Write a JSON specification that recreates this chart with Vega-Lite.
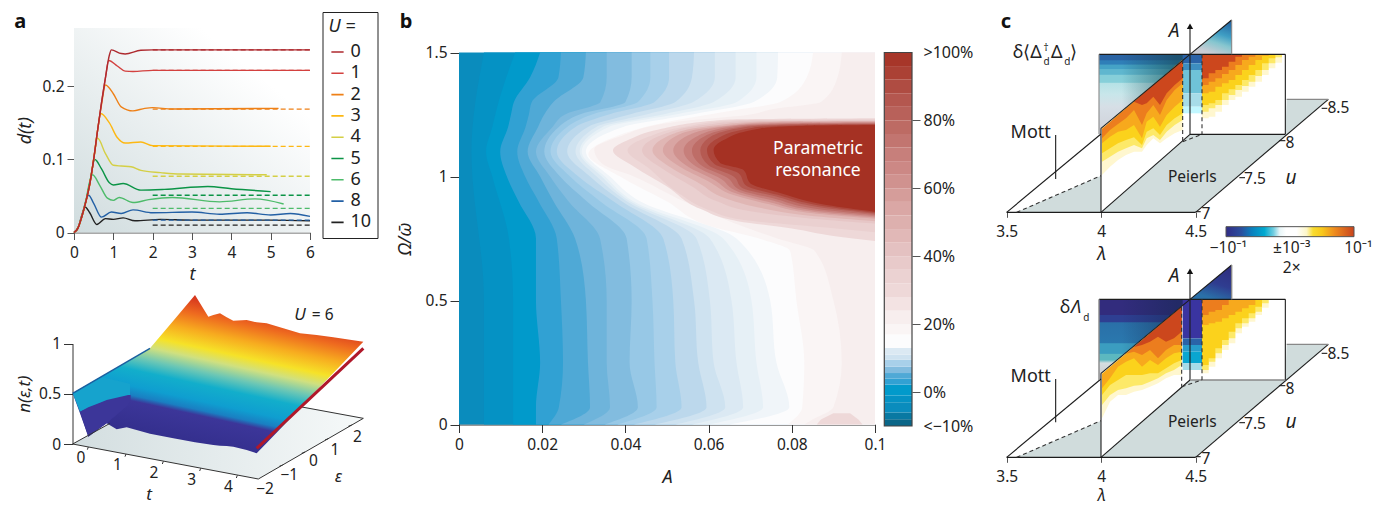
{"$schema":"https://vega.github.io/schema/vega-lite/v6.json","width":1375,"height":505,"padding":0,"autosize":{"type":"none"},"background":"white",
"config":{"font":"Noto Sans","view":{"stroke":null},"axis":{"grid":false,"domainColor":"#555","tickColor":"#555","labelColor":"#222","titleColor":"#222","labelFontSize":15.5,"titleFontSize":18,"titleFontWeight":"normal","labelFont":"Noto Sans","titleFont":"Noto Sans","labelPadding":3,"labelFlush":false,"labelOverlap":false},"text":{"color":"#222","fontSize":16}},
"resolve":{"scale":{"x":"independent","y":"independent","color":"independent"},"axis":{"x":"independent","y":"independent"},"legend":{"color":"independent"}},
"layer":[
{"encoding":{"x":{"field":"t","type":"quantitative","scale":{"domain":[0,6],"range":[74,310],"nice":false},"axis":{"orient":"bottom","offset":-272.5,"values":[0,1,2,3,4,5,6],"labelExpr":"''+datum.value","labelPadding":6,"tickSize":7,"title":"t","titleFontStyle":"italic","titlePadding":4}},"y":{"field":"d","type":"quantitative","scale":{"domain":[0,0.28],"range":[232.5,28],"nice":false},"axis":{"orient":"left","offset":-74,"values":[0,0.1,0.2],"labelExpr":"''+datum.value","tickSize":7,"title":"d(t)","titleFontStyle":"italic","titlePadding":8}}},
"layer":[
{"data":{"values":[{"t":0,"d":0,"t2":6,"d2":0.28}]},"mark":{"type":"rect","fill":{"gradient":"linear","x1":0,"y1":1,"x2":0.75,"y2":0.2,"stops":[{"offset":0,"color":"#d0dcde"},{"offset":1,"color":"#ffffff"}]}},"encoding":{"x2":{"field":"t2"},"y2":{"field":"d2"}}},
{"data":{"values":[
{"U":"10","t":0,"d":0},{"U":"10","t":0.1,"d":0.006},{"U":"10","t":0.2,"d":0.024},{"U":"10","t":0.28,"d":0.035},{"U":"10","t":0.4,"d":0.027},{"U":"10","t":0.58,"d":0.011},{"U":"10","t":0.8,"d":0.019},{"U":"10","t":1,"d":0.018},{"U":"10","t":1.25,"d":0.02},{"U":"10","t":1.55,"d":0.016},{"U":"10","t":2.2,"d":0.018},{"U":"10","t":3,"d":0.017},{"U":"10","t":4,"d":0.017},{"U":"10","t":5,"d":0.017},{"U":"10","t":6,"d":0.016},
{"U":"8","t":0,"d":0},{"U":"8","t":0.1,"d":0.006},{"U":"8","t":0.2,"d":0.022},{"U":"8","t":0.3,"d":0.043},{"U":"8","t":0.37,"d":0.051},{"U":"8","t":0.5,"d":0.04},{"U":"8","t":0.7,"d":0.021},{"U":"8","t":0.95,"d":0.028},{"U":"8","t":1.2,"d":0.026},{"U":"8","t":1.5,"d":0.031},{"U":"8","t":2,"d":0.027},{"U":"8","t":3,"d":0.028},{"U":"8","t":3.7,"d":0.025},{"U":"8","t":4.4,"d":0.027},{"U":"8","t":5,"d":0.024},{"U":"8","t":5.5,"d":0.026},{"U":"8","t":6,"d":0.022},
{"U":"6","t":0,"d":0},{"U":"6","t":0.1,"d":0.006},{"U":"6","t":0.2,"d":0.022},{"U":"6","t":0.3,"d":0.043},{"U":"6","t":0.4,"d":0.07},{"U":"6","t":0.47,"d":0.079},{"U":"6","t":0.65,"d":0.065},{"U":"6","t":0.85,"d":0.047},{"U":"6","t":1,"d":0.044},{"U":"6","t":1.15,"d":0.048},{"U":"6","t":1.5,"d":0.041},{"U":"6","t":1.9,"d":0.045},{"U":"6","t":2.5,"d":0.048},{"U":"6","t":3.7,"d":0.042},{"U":"6","t":4.6,"d":0.046},{"U":"6","t":5.33,"d":0.039},
{"U":"5","t":0,"d":0},{"U":"5","t":0.1,"d":0.006},{"U":"5","t":0.2,"d":0.022},{"U":"5","t":0.3,"d":0.042},{"U":"5","t":0.4,"d":0.068},{"U":"5","t":0.53,"d":0.1},{"U":"5","t":0.7,"d":0.087},{"U":"5","t":0.9,"d":0.068},{"U":"5","t":1,"d":0.065},{"U":"5","t":1.25,"d":0.067},{"U":"5","t":1.7,"d":0.058},{"U":"5","t":2.3,"d":0.059},{"U":"5","t":3.4,"d":0.063},{"U":"5","t":4,"d":0.06},{"U":"5","t":5,"d":0.056},
{"U":"4","t":0,"d":0},{"U":"4","t":0.1,"d":0.006},{"U":"4","t":0.2,"d":0.022},{"U":"4","t":0.3,"d":0.042},{"U":"4","t":0.4,"d":0.066},{"U":"4","t":0.5,"d":0.1},{"U":"4","t":0.6,"d":0.129},{"U":"4","t":0.8,"d":0.108},{"U":"4","t":1,"d":0.092},{"U":"4","t":1.2,"d":0.091},{"U":"4","t":1.45,"d":0.09},{"U":"4","t":1.7,"d":0.085},{"U":"4","t":2.2,"d":0.082},{"U":"4","t":2.7,"d":0.08},{"U":"4","t":4.9,"d":0.079},
{"U":"3","t":0,"d":0},{"U":"3","t":0.1,"d":0.006},{"U":"3","t":0.2,"d":0.022},{"U":"3","t":0.3,"d":0.042},{"U":"3","t":0.4,"d":0.066},{"U":"3","t":0.5,"d":0.1},{"U":"3","t":0.6,"d":0.14},{"U":"3","t":0.68,"d":0.163},{"U":"3","t":0.9,"d":0.15},{"U":"3","t":1.1,"d":0.13},{"U":"3","t":1.3,"d":0.1225},{"U":"3","t":1.7,"d":0.124},{"U":"3","t":2,"d":0.119},{"U":"3","t":5,"d":0.118},
{"U":"2","t":0,"d":0},{"U":"2","t":0.1,"d":0.006},{"U":"2","t":0.2,"d":0.022},{"U":"2","t":0.3,"d":0.042},{"U":"2","t":0.4,"d":0.066},{"U":"2","t":0.5,"d":0.1},{"U":"2","t":0.6,"d":0.14},{"U":"2","t":0.7,"d":0.175},{"U":"2","t":0.8,"d":0.202},{"U":"2","t":1,"d":0.19},{"U":"2","t":1.2,"d":0.172},{"U":"2","t":1.5,"d":0.1665},{"U":"2","t":1.8,"d":0.17},{"U":"2","t":2,"d":0.171},{"U":"2","t":2.5,"d":0.169},{"U":"2","t":5.2,"d":0.17},
{"U":"1","t":0,"d":0},{"U":"1","t":0.1,"d":0.006},{"U":"1","t":0.2,"d":0.022},{"U":"1","t":0.3,"d":0.042},{"U":"1","t":0.4,"d":0.066},{"U":"1","t":0.5,"d":0.1},{"U":"1","t":0.6,"d":0.14},{"U":"1","t":0.7,"d":0.178},{"U":"1","t":0.8,"d":0.212},{"U":"1","t":0.88,"d":0.2355},{"U":"1","t":1.1,"d":0.228},{"U":"1","t":1.3,"d":0.221},{"U":"1","t":1.5,"d":0.2205},{"U":"1","t":2,"d":0.222},{"U":"1","t":6,"d":0.222},
{"U":"0","t":0,"d":0},{"U":"0","t":0.1,"d":0.006},{"U":"0","t":0.2,"d":0.022},{"U":"0","t":0.3,"d":0.042},{"U":"0","t":0.4,"d":0.066},{"U":"0","t":0.5,"d":0.1},{"U":"0","t":0.6,"d":0.14},{"U":"0","t":0.7,"d":0.178},{"U":"0","t":0.8,"d":0.212},{"U":"0","t":0.9,"d":0.243},{"U":"0","t":0.95,"d":0.25},{"U":"0","t":1.2,"d":0.245},{"U":"0","t":1.3,"d":0.2445},{"U":"0","t":1.7,"d":0.2495},{"U":"0","t":2,"d":0.25},{"U":"0","t":6,"d":0.25}
]},"mark":{"type":"line","interpolate":"monotone","strokeWidth":1.4},"encoding":{"color":{"field":"U","type":"nominal","scale":{"domain":["0","1","2","3","4","5","6","8","10"],"range":["#ae2a2f","#d3413f","#ee8017","#fdb813","#d4cf45","#0b9446","#4dbb6a","#2360a5","#222222"]},"legend":{"orient":"none","legendX":322.5,"legendY":12,"title":"U =","titleFontStyle":"italic","titleFontWeight":"normal","titleFontSize":18,"titleColor":"#222","titlePadding":7,"labelFontSize":18,"labelColor":"#222","symbolType":"stroke","symbolSize":150,"symbolStrokeWidth":1.6,"rowPadding":3.3,"strokeColor":"#222","fillColor":"white","padding":6,"symbolDash":[1,0]}}}},
{"data":{"values":[{"U":"0","t":2,"d":0.25},{"U":"0","t":6,"d":0.25},{"U":"1","t":2,"d":0.222},{"U":"1","t":6,"d":0.222},{"U":"2","t":2,"d":0.169},{"U":"2","t":6,"d":0.169},{"U":"3","t":2,"d":0.118},{"U":"3","t":6,"d":0.118},{"U":"4","t":2,"d":0.077},{"U":"4","t":6,"d":0.077},{"U":"5","t":2,"d":0.051},{"U":"5","t":6,"d":0.051},{"U":"6","t":2,"d":0.033},{"U":"6","t":6,"d":0.033},{"U":"8","t":2,"d":0.017},{"U":"8","t":6,"d":0.017},{"U":"10","t":2,"d":0.01},{"U":"10","t":6,"d":0.01}]},"mark":{"type":"line","strokeDash":[5,3],"strokeWidth":1.3},"encoding":{"color":{"field":"U","type":"nominal","scale":{"domain":["0","1","2","3","4","5","6","8","10"],"range":["#ae2a2f","#d3413f","#ee8017","#fdb813","#d4cf45","#0b9446","#4dbb6a","#2360a5","#222222"]},"legend":{"orient":"none","legendX":322.5,"legendY":12,"title":"U =","titleFontStyle":"italic","titleFontWeight":"normal","titleFontSize":18,"titleColor":"#222","titlePadding":7,"labelFontSize":18,"labelColor":"#222","symbolType":"stroke","symbolSize":150,"symbolStrokeWidth":1.6,"rowPadding":3.3,"strokeColor":"#222","fillColor":"white","padding":6,"symbolDash":[1,0]}}}},
{"data":{"values":[{"s":"a","t":-1.37,"d":0.288}]},"mark":{"type":"text","fontSize":20,"fontWeight":"bold","color":"#111"},"encoding":{"text":{"field":"s"}}}
]},
{"data":{"values":[{"n":0},{"n":0.5},{"n":1}]},"mark":{"type":"point","opacity":0},"encoding":{"y":{"field":"n","type":"quantitative","scale":{"domain":[0,1],"range":[444,343.5],"nice":false},"axis":{"orient":"left","offset":-72.5,"values":[0,0.5,1],"labelExpr":"''+datum.value","tickSize":9,"domainColor":"#333","tickColor":"#333","title":"n(ε,t)","titleFontStyle":"italic","titleFontSize":17,"titlePadding":5}}}},
{"encoding":{"x":{"field":"x","type":"quantitative","scale":{"domain":[0,1200],"range":[0,400],"nice":false},"axis":null},"y":{"field":"y","type":"quantitative","scale":{"domain":[0,675],"range":[280,505],"nice":false},"axis":null}},
"layer":[
{"data":{"values":[{"x":218,"y":492,"t":492},{"x":540,"y":553,"t":312},{"x":775,"y":597,"t":355},{"x":1090,"y":415,"t":415}]},"mark":{"type":"area","fill":{"gradient":"linear","x1":0,"y1":0.5,"x2":1,"y2":0.5,"stops":[{"offset":0,"color":"#d3dee0"},{"offset":1,"color":"#f6f9f9"}]}},"encoding":{"y2":{"field":"t"}}},
{"data":{"values":[{"x":218,"y":340,"t":340},{"x":240,"y":400,"t":327},{"x":265,"y":470,"t":313},{"x":320,"y":430,"t":281},{"x":350,"y":448,"t":264},{"x":380,"y":442,"t":246},{"x":450,"y":461,"t":205},{"x":520,"y":475,"t":122},{"x":585,"y":487,"t":45},{"x":625,"y":493,"t":110},{"x":640,"y":495,"t":105},{"x":660,"y":497,"t":100},{"x":680,"y":498,"t":112},{"x":700,"y":500,"t":122},{"x":740,"y":510,"t":120},{"x":770,"y":520,"t":127},{"x":800,"y":489,"t":130},{"x":850,"y":437,"t":145},{"x":900,"y":384,"t":160},{"x":950,"y":331,"t":165},{"x":1000,"y":279,"t":172},{"x":1090,"y":185,"t":185}]},"mark":{"type":"area","fill":{"gradient":"linear","x1":0.25,"y1":1,"x2":0.65,"y2":0,"stops":[{"offset":0,"color":"#2e2a85"},{"offset":0.27,"color":"#3c3699"},{"offset":0.3,"color":"#1a7fc2"},{"offset":0.35,"color":"#0f9ed0"},{"offset":0.44,"color":"#12aecb"},{"offset":0.51,"color":"#6cc7b5"},{"offset":0.58,"color":"#cfe080"},{"offset":0.64,"color":"#f6e228"},{"offset":0.73,"color":"#f7ab1f"},{"offset":0.82,"color":"#ee6a1f"},{"offset":0.9,"color":"#d93a1e"},{"offset":1,"color":"#b9261c"}]}},"encoding":{"y2":{"field":"t"}}},
{"data":{"values":[{"x":218,"y":340,"t":340},{"x":240,"y":395,"t":327},{"x":300,"y":370,"t":292},{"x":305,"y":368,"t":291},{"x":390,"y":345,"t":311}]},"mark":{"type":"area","color":"#16a3cd"},"encoding":{"y2":{"field":"t"}}},
{"data":{"values":[{"x":240,"y":395,"t":395},{"x":265,"y":470,"t":382},{"x":300,"y":443,"t":368},{"x":320,"y":430,"t":360},{"x":385,"y":375,"t":345},{"x":392,"y":360,"t":345}]},"mark":{"type":"area","color":"#3c3699"},"encoding":{"y2":{"field":"t"}}},
{"data":{"values":[{"x":218,"y":492,"b":775,"t":597},{"x":775,"y":597,"b":1090,"t":415},{"x":900,"y":380,"b":1090,"t":415},{"x":218,"y":492,"b":330,"t":430},{"x":265,"y":501,"b":262,"t":509},{"x":378,"y":522,"b":375,"t":530},{"x":490,"y":544,"b":487,"t":552},{"x":602,"y":565,"b":599,"t":573},{"x":712,"y":586,"b":709,"t":594},{"x":848,"y":555,"b":838,"t":559},{"x":915,"y":516,"b":905,"t":520},{"x":985,"y":476,"b":975,"t":480},{"x":1055,"y":435,"b":1045,"t":439}]},"mark":{"type":"rule","color":"#333","strokeWidth":1},"encoding":{"x2":{"field":"b"},"y2":{"field":"t"}}},
{"data":{"values":[{"x":218,"y":340,"b":450,"t":205}]},"mark":{"type":"rule","color":"#1a5fa0","strokeWidth":1.5},"encoding":{"x2":{"field":"b"},"y2":{"field":"t"}}},
{"data":{"values":[{"x":770,"y":505,"b":1090,"t":205}]},"mark":{"type":"rule","color":"#b0182a","strokeWidth":3},"encoding":{"x2":{"field":"b"},"y2":{"field":"t"}}},
{"data":{"values":[{"s":"0","x":243,"y":535},{"s":"1","x":352,"y":555},{"s":"2","x":462,"y":578},{"s":"3","x":575,"y":600},{"s":"4","x":685,"y":622},{"s":"−2","x":795,"y":628},{"s":"−1","x":868,"y":585},{"s":"0","x":940,"y":543},{"s":"1","x":1005,"y":510},{"s":"2","x":1072,"y":470},{"s":"= 6","x":968,"y":105}]},"mark":{"type":"text","fontSize":15.5},"encoding":{"text":{"field":"s"}}},
{"data":{"values":[{"s":"t","x":447,"y":645},{"s":"ε","x":1015,"y":592},{"s":"U","x":900,"y":105}]},"mark":{"type":"text","fontSize":17,"fontStyle":"italic"},"encoding":{"text":{"field":"s"}}}
]},
{"encoding":{"x":{"field":"a","type":"quantitative","scale":{"domain":[0,0.1],"range":[459,875],"nice":false},"axis":{"orient":"bottom","offset":-80.5,"values":[0,0.02,0.04,0.06,0.08,0.1],"labelExpr":"''+datum.value","labelPadding":5,"tickSize":8,"domainColor":"#333","tickColor":"#333","title":"A","titleFontStyle":"italic","titlePadding":15}},"y":{"field":"o","type":"quantitative","scale":{"domain":[0,1.5],"range":[424.5,52.5],"nice":false},"axis":{"orient":"left","offset":-459,"values":[0,0.5,1,1.5],"labelExpr":"''+datum.value","tickSize":9,"domainColor":"#333","tickColor":"#333","title":"Ω/ω̄","titleFontStyle":"italic","titlePadding":11}}},
"layer":[
{"data":{"values":[
{"v":-4,"o":0,"a":0},{"v":-4,"o":1.5,"a":0},
{"v":-2,"o":0,"a":0.006},{"v":-2,"o":0.5,"a":0.006},{"v":-2,"o":1.1,"a":0.003},{"v":-2,"o":1.5,"a":0.006},
{"v":0,"o":0,"a":0.013},{"v":0,"o":0.5,"a":0.013},{"v":0,"o":0.75,"a":0.012},{"v":0,"o":1,"a":0.008},{"v":0,"o":1.1,"a":0.0065},{"v":0,"o":1.2,"a":0.008},{"v":0,"o":1.3,"a":0.0095},{"v":0,"o":1.5,"a":0.0135},
{"v":1,"o":0,"a":0.0185},{"v":1,"o":0.07,"a":0.0185},{"v":1,"o":0.25,"a":0.0195},{"v":1,"o":0.5,"a":0.0185},{"v":1,"o":0.75,"a":0.0185},{"v":1,"o":0.9,"a":0.0143},{"v":1,"o":1,"a":0.0115},{"v":1,"o":1.1,"a":0.0099},{"v":1,"o":1.2,"a":0.0118},{"v":1,"o":1.25,"a":0.0125},{"v":1,"o":1.3,"a":0.0132},{"v":1,"o":1.4,"a":0.0171},{"v":1,"o":1.5,"a":0.0195},
{"v":2.5,"o":0,"a":0.0215},{"v":2.5,"o":0.07,"a":0.024},{"v":2.5,"o":0.25,"a":0.025},{"v":2.5,"o":0.5,"a":0.0245},{"v":2.5,"o":0.75,"a":0.0235},{"v":2.5,"o":0.9,"a":0.0191},{"v":2.5,"o":1,"a":0.0159},{"v":2.5,"o":1.1,"a":0.014},{"v":2.5,"o":1.2,"a":0.016},{"v":2.5,"o":1.25,"a":0.0168},{"v":2.5,"o":1.3,"a":0.0175},{"v":2.5,"o":1.4,"a":0.0239},{"v":2.5,"o":1.5,"a":0.0245},
{"v":4,"o":0,"a":0.0245},{"v":4,"o":0.07,"a":0.0315},{"v":4,"o":0.25,"a":0.031},{"v":4,"o":0.5,"a":0.0305},{"v":4,"o":0.75,"a":0.0279},{"v":4,"o":0.9,"a":0.0227},{"v":4,"o":1,"a":0.0195},{"v":4,"o":1.1,"a":0.0165},{"v":4,"o":1.2,"a":0.019},{"v":4,"o":1.25,"a":0.0205},{"v":4,"o":1.3,"a":0.0227},{"v":4,"o":1.4,"a":0.0299},{"v":4,"o":1.5,"a":0.0305},
{"v":5,"o":0,"a":0.03},{"v":5,"o":0.07,"a":0.0363},{"v":5,"o":0.25,"a":0.0355},{"v":5,"o":0.5,"a":0.0355},{"v":5,"o":0.75,"a":0.0339},{"v":5,"o":0.9,"a":0.0263},{"v":5,"o":1,"a":0.0219},{"v":5,"o":1.1,"a":0.0185},{"v":5,"o":1.2,"a":0.0225},{"v":5,"o":1.25,"a":0.0255},{"v":5,"o":1.3,"a":0.034},{"v":5,"o":1.4,"a":0.0355},{"v":5,"o":1.5,"a":0.0355},
{"v":6.5,"o":0,"a":0.035},{"v":6.5,"o":0.07,"a":0.043},{"v":6.5,"o":0.25,"a":0.041},{"v":6.5,"o":0.5,"a":0.0415},{"v":6.5,"o":0.75,"a":0.0403},{"v":6.5,"o":0.9,"a":0.0307},{"v":6.5,"o":1,"a":0.0243},{"v":6.5,"o":1.1,"a":0.0205},{"v":6.5,"o":1.2,"a":0.024},{"v":6.5,"o":1.25,"a":0.029},{"v":6.5,"o":1.3,"a":0.04},{"v":6.5,"o":1.4,"a":0.0415},{"v":6.5,"o":1.5,"a":0.0415},
{"v":7.5,"o":0,"a":0.038},{"v":7.5,"o":0.07,"a":0.0475},{"v":7.5,"o":0.25,"a":0.047},{"v":7.5,"o":0.5,"a":0.0465},{"v":7.5,"o":0.75,"a":0.0451},{"v":7.5,"o":0.9,"a":0.0339},{"v":7.5,"o":1,"a":0.0267},{"v":7.5,"o":1.1,"a":0.022},{"v":7.5,"o":1.2,"a":0.026},{"v":7.5,"o":1.25,"a":0.032},{"v":7.5,"o":1.3,"a":0.043},{"v":7.5,"o":1.4,"a":0.046},{"v":7.5,"o":1.5,"a":0.046},
{"v":8.5,"o":0,"a":0.042},{"v":8.5,"o":0.07,"a":0.0535},{"v":8.5,"o":0.25,"a":0.052},{"v":8.5,"o":0.5,"a":0.0515},{"v":8.5,"o":0.75,"a":0.0491},{"v":8.5,"o":0.9,"a":0.0371},{"v":8.5,"o":1,"a":0.0287},{"v":8.5,"o":1.1,"a":0.0235},{"v":8.5,"o":1.2,"a":0.028},{"v":8.5,"o":1.25,"a":0.036},{"v":8.5,"o":1.3,"a":0.047},{"v":8.5,"o":1.4,"a":0.0505},{"v":8.5,"o":1.5,"a":0.0505},
{"v":10,"o":0,"a":0.047},{"v":10,"o":0.07,"a":0.0595},{"v":10,"o":0.25,"a":0.0575},{"v":10,"o":0.5,"a":0.0565},{"v":10,"o":0.75,"a":0.0535},{"v":10,"o":0.9,"a":0.0391},{"v":10,"o":1,"a":0.0315},{"v":10,"o":1.1,"a":0.026},{"v":10,"o":1.2,"a":0.031},{"v":10,"o":1.25,"a":0.041},{"v":10,"o":1.3,"a":0.052},{"v":10,"o":1.4,"a":0.056},{"v":10,"o":1.5,"a":0.0565},
{"v":11,"o":0,"a":0.052},{"v":11,"o":0.07,"a":0.064},{"v":11,"o":0.25,"a":0.0612},{"v":11,"o":0.5,"a":0.0603},{"v":11,"o":0.75,"a":0.0571},{"v":11,"o":0.9,"a":0.0403},{"v":11,"o":1,"a":0.0331},{"v":11,"o":1.1,"a":0.028},{"v":11,"o":1.2,"a":0.033},{"v":11,"o":1.25,"a":0.045},{"v":11,"o":1.3,"a":0.0563},{"v":11,"o":1.4,"a":0.0615},{"v":11,"o":1.5,"a":0.0615},
{"v":12,"o":0,"a":0.056},{"v":12,"o":0.07,"a":0.0683},{"v":12,"o":0.25,"a":0.0667},{"v":12,"o":0.5,"a":0.0655},{"v":12,"o":0.75,"a":0.0603},{"v":12,"o":0.9,"a":0.0411},{"v":12,"o":1,"a":0.0343},{"v":12,"o":1.1,"a":0.029},{"v":12,"o":1.2,"a":0.0345},{"v":12,"o":1.25,"a":0.049},{"v":12,"o":1.3,"a":0.0612},{"v":12,"o":1.4,"a":0.0665},{"v":12,"o":1.5,"a":0.0665},
{"v":12.7,"o":0,"a":0.06},{"v":12.7,"o":0.07,"a":0.0731},{"v":12.7,"o":0.25,"a":0.0715},{"v":12.7,"o":0.5,"a":0.0703},{"v":12.7,"o":0.75,"a":0.0635},{"v":12.7,"o":0.9,"a":0.0419},{"v":12.7,"o":1,"a":0.0351},{"v":12.7,"o":1.1,"a":0.0295},{"v":12.7,"o":1.2,"a":0.036},{"v":12.7,"o":1.25,"a":0.052},{"v":12.7,"o":1.3,"a":0.0668},{"v":12.7,"o":1.4,"a":0.0715},{"v":12.7,"o":1.5,"a":0.0715},
{"v":13.5,"o":0,"a":0.065},{"v":13.5,"o":0.07,"a":0.0794},{"v":13.5,"o":0.25,"a":0.0763},{"v":13.5,"o":0.5,"a":0.0748},{"v":13.5,"o":0.75,"a":0.0667},{"v":13.5,"o":0.9,"a":0.0435},{"v":13.5,"o":1,"a":0.0363},{"v":13.5,"o":1.1,"a":0.0305},{"v":13.5,"o":1.2,"a":0.0395},{"v":13.5,"o":1.25,"a":0.056},{"v":13.5,"o":1.3,"a":0.0708},{"v":13.5,"o":1.4,"a":0.0765},{"v":13.5,"o":1.5,"a":0.0767},
{"v":17,"o":0,"a":0.079},{"v":17,"o":0.07,"a":0.0825},{"v":17,"o":0.25,"a":0.083},{"v":17,"o":0.5,"a":0.0811},{"v":17,"o":0.7,"a":0.0796},{"v":17,"o":0.745,"a":0.0731},{"v":17,"o":0.8,"a":0.0603},{"v":17,"o":0.9,"a":0.0499},{"v":17,"o":1,"a":0.0387},{"v":17,"o":1.09,"a":0.0311},{"v":17,"o":1.15,"a":0.036},{"v":17,"o":1.22,"a":0.05},{"v":17,"o":1.26,"a":0.0636},{"v":17,"o":1.3,"a":0.0772},{"v":17,"o":1.4,"a":0.0836},{"v":17,"o":1.5,"a":0.0851},
{"v":22,"o":0,"a":0.083},{"v":22,"o":0.02,"a":0.085},{"v":22,"o":0.07,"a":0.09},{"v":22,"o":0.25,"a":0.092},{"v":22,"o":0.5,"a":0.09},{"v":22,"o":0.7,"a":0.0855},{"v":22,"o":0.75,"a":0.0765},{"v":22,"o":0.8,"a":0.068},{"v":22,"o":0.9,"a":0.054},{"v":22,"o":1,"a":0.042},{"v":22,"o":1.05,"a":0.0345},{"v":22,"o":1.11,"a":0.0325},{"v":22,"o":1.16,"a":0.0385},{"v":22,"o":1.22,"a":0.052},{"v":22,"o":1.25,"a":0.07},{"v":22,"o":1.27,"a":0.075},{"v":22,"o":1.3,"a":0.087},{"v":22,"o":1.4,"a":0.091},{"v":22,"o":1.5,"a":0.092},
{"v":30,"o":0.74,"a":0.1},{"v":30,"o":0.76,"a":0.09},{"v":30,"o":0.79,"a":0.08},{"v":30,"o":0.82,"a":0.067},{"v":30,"o":0.87,"a":0.058},{"v":30,"o":0.96,"a":0.05},{"v":30,"o":1.04,"a":0.042},{"v":30,"o":1.105,"a":0.037},{"v":30,"o":1.15,"a":0.041},{"v":30,"o":1.19,"a":0.048},{"v":30,"o":1.23,"a":0.065},{"v":30,"o":1.235,"a":0.1},
{"v":35,"o":0.775,"a":0.1},{"v":35,"o":0.795,"a":0.0875},{"v":35,"o":0.825,"a":0.0685},{"v":35,"o":0.865,"a":0.06},{"v":35,"o":0.93,"a":0.053},{"v":35,"o":1.035,"a":0.0455},{"v":35,"o":1.105,"a":0.0405},{"v":35,"o":1.16,"a":0.0455},{"v":35,"o":1.2,"a":0.054},{"v":35,"o":1.228,"a":0.0675},{"v":35,"o":1.231,"a":0.1},
{"v":40,"o":0.81,"a":0.1},{"v":40,"o":0.83,"a":0.085},{"v":40,"o":0.86,"a":0.07},{"v":40,"o":0.9,"a":0.062},{"v":40,"o":0.96,"a":0.056},{"v":40,"o":1.03,"a":0.049},{"v":40,"o":1.105,"a":0.044},{"v":40,"o":1.175,"a":0.05},{"v":40,"o":1.21,"a":0.06},{"v":40,"o":1.225,"a":0.07},{"v":40,"o":1.227,"a":0.1},
{"v":47,"o":0.82,"a":0.1},{"v":47,"o":0.84,"a":0.0855},{"v":47,"o":0.875,"a":0.072},{"v":47,"o":0.912,"a":0.064},{"v":47,"o":0.97,"a":0.058},{"v":47,"o":1.035,"a":0.051},{"v":47,"o":1.105,"a":0.0465},{"v":47,"o":1.172,"a":0.0515},{"v":47,"o":1.207,"a":0.062},{"v":47,"o":1.222,"a":0.0725},{"v":47,"o":1.224,"a":0.1},
{"v":55,"o":0.83,"a":0.1},{"v":55,"o":0.85,"a":0.086},{"v":55,"o":0.89,"a":0.074},{"v":55,"o":0.925,"a":0.066},{"v":55,"o":0.98,"a":0.06},{"v":55,"o":1.04,"a":0.053},{"v":55,"o":1.105,"a":0.049},{"v":55,"o":1.17,"a":0.053},{"v":55,"o":1.205,"a":0.064},{"v":55,"o":1.22,"a":0.075},{"v":55,"o":1.222,"a":0.1},
{"v":62,"o":0.835,"a":0.1},{"v":62,"o":0.855,"a":0.0865},{"v":62,"o":0.897,"a":0.0745},{"v":62,"o":0.932,"a":0.0665},{"v":62,"o":0.985,"a":0.0615},{"v":62,"o":1.04,"a":0.055},{"v":62,"o":1.105,"a":0.0515},{"v":62,"o":1.165,"a":0.055},{"v":62,"o":1.205,"a":0.0655},{"v":62,"o":1.217,"a":0.0775},{"v":62,"o":1.219,"a":0.1},
{"v":70,"o":0.84,"a":0.1},{"v":70,"o":0.86,"a":0.087},{"v":70,"o":0.905,"a":0.075},{"v":70,"o":0.94,"a":0.067},{"v":70,"o":0.99,"a":0.063},{"v":70,"o":1.04,"a":0.057},{"v":70,"o":1.105,"a":0.054},{"v":70,"o":1.16,"a":0.057},{"v":70,"o":1.205,"a":0.067},{"v":70,"o":1.215,"a":0.08},{"v":70,"o":1.217,"a":0.1},
{"v":77,"o":0.845,"a":0.1},{"v":77,"o":0.867,"a":0.087},{"v":77,"o":0.912,"a":0.0755},{"v":77,"o":0.947,"a":0.0675},{"v":77,"o":0.995,"a":0.0645},{"v":77,"o":1.042,"a":0.0585},{"v":77,"o":1.105,"a":0.056},{"v":77,"o":1.157,"a":0.0585},{"v":77,"o":1.202,"a":0.068},{"v":77,"o":1.212,"a":0.08},{"v":77,"o":1.214,"a":0.1},
{"v":85,"o":0.85,"a":0.1},{"v":85,"o":0.875,"a":0.087},{"v":85,"o":0.92,"a":0.076},{"v":85,"o":0.955,"a":0.068},{"v":85,"o":1,"a":0.066},{"v":85,"o":1.045,"a":0.06},{"v":85,"o":1.105,"a":0.058},{"v":85,"o":1.155,"a":0.06},{"v":85,"o":1.2,"a":0.069},{"v":85,"o":1.21,"a":0.08},{"v":85,"o":1.212,"a":0.1},
{"v":92,"o":0.854,"a":0.1},{"v":92,"o":0.88,"a":0.0877},{"v":92,"o":0.926,"a":0.0766},{"v":92,"o":0.964,"a":0.069},{"v":92,"o":1.013,"a":0.0672},{"v":92,"o":1.05,"a":0.0614},{"v":92,"o":1.106,"a":0.0596},{"v":92,"o":1.15,"a":0.0618},{"v":92,"o":1.197,"a":0.0707},{"v":92,"o":1.207,"a":0.0818},{"v":92,"o":1.21,"a":0.1},
{"v":100,"o":0.858,"a":0.0999},{"v":100,"o":0.885,"a":0.0884},{"v":100,"o":0.933,"a":0.0772},{"v":100,"o":0.973,"a":0.07},{"v":100,"o":1.026,"a":0.0684},{"v":100,"o":1.054,"a":0.0628},{"v":100,"o":1.107,"a":0.0612},{"v":100,"o":1.147,"a":0.0636},{"v":100,"o":1.194,"a":0.0724},{"v":100,"o":1.205,"a":0.0836},{"v":100,"o":1.208,"a":0.1}
]},"mark":{"type":"area","orient":"horizontal","interpolate":"monotone"},"encoding":{"x2":{"datum":0.1},"color":{"field":"v","type":"quantitative","legend":null,"scale":{"domain":[-10,-4,-2,0,1,2.5,4,5,6.5,7.5,8.5,10,11,12,12.7,13.5,17,22,30,35,40,47,55,62,70,77,85,92,100],"range":["#0a6688","#0a8cbd","#0592c4","#019acb","#31a1d3","#4fa9d6","#6eb4db","#82bcdf","#97c8e6","#a8d0ea","#bcd8ec","#cee2f0","#dbe9f3","#e6f0f6","#f0f5f9","#fcfcfd","#faf5f5","#f7eeee","#eed8d8","#ead0d0","#e6c6c6","#e0b6b4","#d9a5a3","#d0928f","#c77f7b","#be6d67","#b55a52","#ad463b","#a53123"]}}}},
{"data":{"values":[{"o":0,"a":0.086,"b":0.097},{"o":0.02,"a":0.087,"b":0.096},{"o":0.045,"a":0.09,"b":0.094}]},"mark":{"type":"area","orient":"horizontal","color":"#eed8d8"},"encoding":{"x2":{"field":"b"}}},
{"data":{"values":[{"s":"Parametric","a":0.0863,"o":1.11},{"s":"resonance","a":0.0863,"o":1.022}]},"mark":{"type":"text","color":"white","fontSize":17.5},"encoding":{"text":{"field":"s"}}},
{"data":{"values":[{"s":"b","a":-0.0127,"o":1.623}]},"mark":{"type":"text","fontSize":20,"fontWeight":"bold","color":"#111"},"encoding":{"text":{"field":"s"}}}
]},
{"encoding":{"x":{"datum":0,"type":"quantitative","scale":{"domain":[0,1],"range":[884.3,912],"nice":false},"axis":null},"y":{"field":"lo","type":"quantitative","scale":{"domain":[-10,100],"range":[426,52.5],"nice":false},"axis":{"orient":"right","offset":-463,"values":[-10,0,20,40,60,80,100],"tickSize":8,"domain":false,"title":null,"labelFontSize":16,"labelExpr":"datum.value==100?'>100%':datum.value==-10?'<−10%':datum.value+'%'","tickOpacity":{"condition":{"test":"datum.value==100||datum.value==-10","value":0},"value":1}}}},
"layer":[
{"data":{"values":[{"lo":-10,"hi":-8,"c":-10},{"lo":-8,"hi":-6,"c":-7},{"lo":-6,"hi":-3,"c":-4},{"lo":-3,"hi":-1,"c":-2},{"lo":-1,"hi":2.2,"c":0},{"lo":2.2,"hi":4,"c":1},{"lo":4,"hi":5.6,"c":2.5},{"lo":5.6,"hi":7.5,"c":5},{"lo":7.5,"hi":9.5,"c":7.5},{"lo":9.5,"hi":11,"c":10},{"lo":11,"hi":13,"c":11},{"lo":13,"hi":17,"c":13.5},{"lo":17,"hi":20,"c":17},{"lo":20,"hi":24,"c":22},{"lo":24,"hi":28,"c":26},{"lo":28,"hi":32,"c":30},{"lo":32,"hi":36,"c":34},{"lo":36,"hi":40,"c":38},{"lo":40,"hi":44,"c":42},{"lo":44,"hi":48,"c":46},{"lo":48,"hi":52,"c":50},{"lo":52,"hi":56,"c":54},{"lo":56,"hi":60,"c":58},{"lo":60,"hi":64,"c":62},{"lo":64,"hi":68,"c":66},{"lo":68,"hi":72,"c":70},{"lo":72,"hi":76,"c":74},{"lo":76,"hi":80,"c":78},{"lo":80,"hi":84,"c":82},{"lo":84,"hi":88,"c":86},{"lo":88,"hi":92,"c":90},{"lo":92,"hi":96,"c":94},{"lo":96,"hi":100,"c":98}]},"mark":{"type":"rect"},"encoding":{"x2":{"datum":1},"y2":{"field":"hi"},"color":{"field":"c","type":"quantitative","legend":null,"scale":{"domain":[-10,-4,-2,0,1,2.5,4,5,6.5,7.5,8.5,10,11,12,12.7,13.5,17,22,30,35,40,47,55,62,70,77,85,92,100],"range":["#0a6688","#0a8cbd","#0592c4","#019acb","#31a1d3","#4fa9d6","#6eb4db","#82bcdf","#97c8e6","#a8d0ea","#bcd8ec","#cee2f0","#dbe9f3","#e6f0f6","#f0f5f9","#fcfcfd","#faf5f5","#f7eeee","#eed8d8","#ead0d0","#e6c6c6","#e0b6b4","#d9a5a3","#d0928f","#c77f7b","#be6d67","#b55a52","#ad463b","#a53123"]}}}},
{"data":{"values":[{"lo":-10,"hi":100}]},"mark":{"type":"rect","fill":null,"fillOpacity":0,"stroke":"#444","strokeWidth":1.2},"encoding":{"x2":{"datum":1},"y2":{"field":"hi"}}}
]},
{"data":{"values":[{"l":3.5},{"l":4},{"l":4.5}]},"mark":{"type":"point","opacity":0},"encoding":{"x":{"field":"l","type":"quantitative","scale":{"domain":[3.5,4.5],"range":[1006.7,1195.7],"nice":false},"axis":{"orient":"bottom","offset":-292.7,"values":[3.5,4,4.5],"labelExpr":"''+datum.value","labelPadding":7,"tickSize":5,"domain":false,"title":"λ","titleFontStyle":"italic","titlePadding":6}}}},
{"data":{"values":[{"l":3.5},{"l":4},{"l":4.5}]},"mark":{"type":"point","opacity":0},"encoding":{"x":{"field":"l","type":"quantitative","scale":{"domain":[3.5,4.5],"range":[1006.7,1195.7],"nice":false},"axis":{"orient":"bottom","offset":-47.7,"values":[3.5,4,4.5],"labelExpr":"''+datum.value","labelPadding":7,"tickSize":5,"domain":false,"title":"λ","titleFontStyle":"italic","titleFontSize":16,"titlePadding":3}}}},
{"encoding":{"x":{"field":"x","type":"quantitative","scale":{"domain":[0,1155],"range":[990,1375],"nice":false},"axis":null},"y":{"field":"y","type":"quantitative","scale":{"domain":[0,810],"range":[5,275],"nice":false},"axis":null}},
"layer":[
{"data":{"values":[{"x":333,"y":622,"t":622},{"x":600,"y":622,"t":388},{"x":617,"y":622,"t":388},{"x":886,"y":393,"t":388},{"x":890,"y":389.6,"t":283},{"x":1015,"y":283,"t":283}]},"mark":{"type":"area","color":"#d0dcdc"},"encoding":{"y2":{"field":"t"}}},
{"data":{"values":[{"x":80,"y":622,"t":622},{"x":333,"y":622,"t":512}]},"mark":{"type":"area","color":"#d0dcdc"},"encoding":{"y2":{"field":"t"}}},
{"data":{"values":[{"x":600,"y":148,"t":148},{"x":725,"y":148,"t":45}]},"mark":{"type":"area","fill":{"gradient":"linear","x1":1,"y1":0,"x2":0.6,"y2":1,"stops":[{"offset":0,"color":"#1f5a9c"},{"offset":0.45,"color":"#3f9ec4"},{"offset":0.7,"color":"#86c6cf"},{"offset":1,"color":"#c9ccd4"}]}},"encoding":{"y2":{"field":"t"}}},
{"data":{"values":[{"x":327,"y":148,"b":600,"t":388}]},"mark":{"type":"rect","fill":{"gradient":"linear","x1":0,"y1":0,"x2":0,"y2":1,"stops":[{"offset":0,"color":"#2a63a3"},{"offset":0.07,"color":"#2a63a3"},{"offset":0.08,"color":"#2f7fb8"},{"offset":0.125,"color":"#2f7fb8"},{"offset":0.13,"color":"#45a3c6"},{"offset":0.18,"color":"#45a3c6"},{"offset":0.19,"color":"#5fb7cf"},{"offset":0.25,"color":"#5fb7cf"},{"offset":0.26,"color":"#86cfd9"},{"offset":0.35,"color":"#86cfd9"},{"offset":0.36,"color":"#b5e2e6"},{"offset":0.5,"color":"#c8e6ea"},{"offset":0.65,"color":"#d6dfe6"},{"offset":1,"color":"#cfd0d8"}]}},"encoding":{"x2":{"field":"b"},"y2":{"field":"t"}}},
{"data":{"values":[{"x":327,"y":148,"b":600,"t":388}]},"mark":{"type":"rect","fill":{"gradient":"linear","x1":0,"y1":0,"x2":1,"y2":0,"stops":[{"offset":0.25,"color":"rgba(20,70,80,0)"},{"offset":0.85,"color":"rgba(20,70,80,0.6)"}]}},"encoding":{"x2":{"field":"b"},"y2":{"field":"t"}}},
{"data":{"values":[{"x":333,"y":622,"t":370},{"x":600,"y":388,"t":148}]},"mark":{"type":"area","color":"white"},"encoding":{"y2":{"field":"t"}}},
{"data":{"values":[{"x":600,"y":148,"b":886,"t":388}]},"mark":{"type":"rect","color":"white"},"encoding":{"x2":{"field":"b"},"y2":{"field":"t"}}}
]},
{"encoding":{"x":{"field":"x","type":"quantitative","scale":{"domain":[0,600],"range":[1090,1290],"nice":false},"axis":null},"y":{"field":"y","type":"quantitative","scale":{"domain":[0,390],"range":[50,180],"nice":false},"axis":null},"color":{"field":"v","type":"quantitative","legend":null,"scale":{"domain":[-5,-4,-3.5,-3,-2,-1,0,1,2,3,4,5,6],"range":["#3a34a0","#2a63a8","#3d8ec0","#0aa6d0","#6fc3d8","#a7dce8","#ffffff","#fff7cf","#fde968","#fbd21c","#f7a91d","#ec7d1e","#cc471d"]}}},
"layer":[
{"data":{"values":[{"v":-4,"x":278,"e":336,"y":14,"b":40},{"v":-3.5,"x":278,"e":336,"y":40,"b":60},{"v":-2,"x":278,"e":336,"y":60,"b":130},{"v":-1,"x":278,"e":336,"y":130,"b":170},{"v":-0.4,"x":278,"e":336,"y":170,"b":190}]},"mark":{"type":"rect"},"encoding":{"x2":{"field":"e"},"y2":{"field":"b"}}},
{"data":{"values":[
{"v":1,"x":36,"y":375,"t":237},{"v":1,"x":60,"y":350,"t":216.5},{"v":1,"x":84,"y":330,"t":196},{"v":1,"x":108,"y":315,"t":175.5},{"v":1,"x":132,"y":305,"t":155},{"v":1,"x":156,"y":305,"t":134.4},{"v":1,"x":170,"y":285,"t":122.4},{"v":1,"x":190,"y":265,"t":105.3},{"v":1,"x":210,"y":280,"t":88.2},{"v":1,"x":230,"y":265,"t":71.1},{"v":1,"x":254,"y":250,"t":50.6},{"v":1,"x":278,"y":240,"t":30},
{"v":2,"x":36,"y":335,"t":237},{"v":2,"x":60,"y":320,"t":216.5},{"v":2,"x":84,"y":305,"t":196},{"v":2,"x":108,"y":295,"t":175.5},{"v":2,"x":132,"y":285,"t":155},{"v":2,"x":156,"y":295,"t":134.4},{"v":2,"x":170,"y":265,"t":122.4},{"v":2,"x":190,"y":255,"t":105.3},{"v":2,"x":210,"y":270,"t":88.2},{"v":2,"x":230,"y":245,"t":71.1},{"v":2,"x":254,"y":225,"t":50.6},{"v":2,"x":278,"y":210,"t":30},
{"v":3,"x":36,"y":310,"t":237},{"v":3,"x":60,"y":295,"t":216.5},{"v":3,"x":84,"y":280,"t":196},{"v":3,"x":108,"y":270,"t":175.5},{"v":3,"x":132,"y":262,"t":155},{"v":3,"x":156,"y":285,"t":134.4},{"v":3,"x":170,"y":245,"t":122.4},{"v":3,"x":190,"y":235,"t":105.3},{"v":3,"x":210,"y":255,"t":88.2},{"v":3,"x":230,"y":225,"t":71.1},{"v":3,"x":254,"y":205,"t":50.6},{"v":3,"x":278,"y":190,"t":30},
{"v":4,"x":36,"y":280,"t":237},{"v":4,"x":60,"y":260,"t":216.5},{"v":4,"x":84,"y":245,"t":196},{"v":4,"x":108,"y":240,"t":175.5},{"v":4,"x":132,"y":225,"t":155},{"v":4,"x":156,"y":265,"t":134.4},{"v":4,"x":170,"y":215,"t":122.4},{"v":4,"x":190,"y":200,"t":105.3},{"v":4,"x":210,"y":230,"t":88.2},{"v":4,"x":230,"y":195,"t":71.1},{"v":4,"x":254,"y":170,"t":50.6},{"v":4,"x":278,"y":150,"t":30},
{"v":5,"x":36,"y":265,"t":237},{"v":5,"x":60,"y":240,"t":216.5},{"v":5,"x":84,"y":222,"t":196},{"v":5,"x":108,"y":205,"t":175.5},{"v":5,"x":132,"y":180,"t":155},{"v":5,"x":156,"y":225,"t":134.4},{"v":5,"x":170,"y":190,"t":122.4},{"v":5,"x":190,"y":165,"t":105.3},{"v":5,"x":210,"y":195,"t":88.2},{"v":5,"x":230,"y":150,"t":71.1},{"v":5,"x":254,"y":120,"t":50.6},{"v":5,"x":278,"y":100,"t":30},
{"v":6,"x":132,"y":155,"t":155},{"v":6,"x":156,"y":165,"t":134.4},{"v":6,"x":170,"y":160,"t":122.4},{"v":6,"x":190,"y":140,"t":105.3},{"v":6,"x":210,"y":165,"t":88.2},{"v":6,"x":230,"y":130,"t":71.1},{"v":6,"x":254,"y":105,"t":50.6},{"v":6,"x":278,"y":85,"t":30}
]},"mark":{"type":"area"},"encoding":{"y2":{"field":"t"}}},
{"data":{"values":[
{"v":1,"x":336,"y":205},{"v":1,"x":356,"y":200},{"v":1,"x":376,"y":185},{"v":1,"x":396,"y":165},{"v":1,"x":416,"y":150},{"v":1,"x":436,"y":140},{"v":1,"x":456,"y":125},{"v":1,"x":476,"y":110},{"v":1,"x":496,"y":95},{"v":1,"x":516,"y":75},{"v":1,"x":536,"y":55},{"v":1,"x":556,"y":38},{"v":1,"x":576,"y":14},
{"v":2,"x":336,"y":185},{"v":2,"x":356,"y":175},{"v":2,"x":376,"y":165},{"v":2,"x":396,"y":150},{"v":2,"x":416,"y":135},{"v":2,"x":436,"y":120},{"v":2,"x":456,"y":108},{"v":2,"x":476,"y":95},{"v":2,"x":496,"y":78},{"v":2,"x":516,"y":60},{"v":2,"x":536,"y":40},{"v":2,"x":556,"y":22},{"v":2,"x":576,"y":14},
{"v":3,"x":336,"y":165},{"v":3,"x":356,"y":160},{"v":3,"x":376,"y":150},{"v":3,"x":396,"y":130},{"v":3,"x":416,"y":118},{"v":3,"x":436,"y":105},{"v":3,"x":456,"y":90},{"v":3,"x":476,"y":75},{"v":3,"x":496,"y":60},{"v":3,"x":516,"y":40},{"v":3,"x":536,"y":25},{"v":3,"x":556,"y":14},
{"v":4,"x":336,"y":130},{"v":4,"x":356,"y":125},{"v":4,"x":376,"y":110},{"v":4,"x":396,"y":100},{"v":4,"x":416,"y":90},{"v":4,"x":436,"y":75},{"v":4,"x":456,"y":60},{"v":4,"x":476,"y":45},{"v":4,"x":496,"y":30},{"v":4,"x":516,"y":18},{"v":4,"x":536,"y":14},
{"v":5,"x":336,"y":105},{"v":5,"x":356,"y":95},{"v":5,"x":376,"y":85},{"v":5,"x":396,"y":72},{"v":5,"x":416,"y":60},{"v":5,"x":436,"y":45},{"v":5,"x":456,"y":30},{"v":5,"x":476,"y":20},{"v":5,"x":496,"y":14},
{"v":6,"x":336,"y":85},{"v":6,"x":356,"y":70},{"v":6,"x":376,"y":60},{"v":6,"x":396,"y":50},{"v":6,"x":416,"y":35},{"v":6,"x":436,"y":20},{"v":6,"x":456,"y":14}
]},"mark":{"type":"area","interpolate":"step-after"},"encoding":{"y2":{"datum":14}}}
]},
{"encoding":{"x":{"field":"x","type":"quantitative","scale":{"domain":[0,1155],"range":[990,1375],"nice":false},"axis":null},"y":{"field":"y","type":"quantitative","scale":{"domain":[0,810],"range":[5,275],"nice":false},"axis":null}},
"layer":[
{"data":{"values":[{"x":50,"y":622,"b":617,"t":622},{"x":617,"y":622,"b":1015,"t":283},{"x":50,"y":622,"b":333,"t":387},{"x":333,"y":622,"b":600,"t":388},{"x":333,"y":370,"b":333,"t":622},{"x":333,"y":370,"b":600,"t":148},{"x":600,"y":148,"b":725,"t":45},{"x":327,"y":148,"b":886,"t":148},{"x":886,"y":148,"b":886,"t":388},{"x":600,"y":388,"b":886,"t":388},{"x":600,"y":62,"b":600,"t":388},{"x":197,"y":390,"b":197,"t":522},{"x":617,"y":620,"b":632,"t":620},{"x":748,"y":518,"b":765,"t":518},{"x":868,"y":407,"b":886,"t":407},{"x":995,"y":310,"b":1012,"t":310}]},"mark":{"type":"rule","color":"#1c1c1c","strokeWidth":1.1},"encoding":{"x2":{"field":"b"},"y2":{"field":"t"}}},
{"data":{"values":[{"x":327,"y":148,"b":327,"t":388},{"x":890,"y":283,"b":1015,"t":283},{"x":725,"y":45,"b":725,"t":148}]},"mark":{"type":"rule","color":"#888","strokeWidth":1.1},"encoding":{"x2":{"field":"b"},"y2":{"field":"t"}}},
{"data":{"values":[{"x":80,"y":622,"b":333,"t":512},{"x":578,"y":165,"b":578,"t":410},{"x":636,"y":148,"b":636,"t":388},{"x":578,"y":410,"b":636,"t":388}]},"mark":{"type":"rule","color":"#333","strokeWidth":1.1,"strokeDash":[4,3]},"encoding":{"x2":{"field":"b"},"y2":{"field":"t"}}},
{"data":{"values":[{"x":600,"y":64}]},"mark":{"type":"point","shape":"triangle-up","filled":true,"color":"#111","size":40,"opacity":1}},
{"data":{"values":[{"x":708,"y":665,"b":1092,"t":695}]},"mark":{"type":"rect","stroke":"#555","strokeWidth":1,"fill":{"gradient":"linear","x1":0,"y1":0,"x2":1,"y2":0,"stops":[{"offset":0,"color":"#312c86"},{"offset":0.12,"color":"#2a4f9e"},{"offset":0.2,"color":"#0a7fbd"},{"offset":0.3,"color":"#00a9d0"},{"offset":0.37,"color":"#6fcde0"},{"offset":0.42,"color":"#e8f6f8"},{"offset":0.47,"color":"#ffffff"},{"offset":0.55,"color":"#ffffff"},{"offset":0.63,"color":"#fdf6c8"},{"offset":0.68,"color":"#f9dc30"},{"offset":0.75,"color":"#f8c81c"},{"offset":0.85,"color":"#ee8a1e"},{"offset":1,"color":"#c8431d"}]}},"encoding":{"x2":{"field":"b"},"y2":{"field":"t"}}},
{"data":{"values":[{"s":"7","x":648,"y":628},{"s":"7.5","x":795,"y":522},{"s":"8","x":900,"y":415},{"s":"8.5","x":1045,"y":310},{"s":"−10⁻¹","x":715,"y":730},{"s":"±10⁻³","x":905,"y":730},{"s":"10⁻¹","x":1105,"y":730},{"s":"2×","x":905,"y":788},{"s":"Peierls","x":607,"y":515}]},"mark":{"type":"text","fontSize":15.5},"encoding":{"text":{"field":"s"}}},
{"data":{"values":[{"s":"Mott","x":122,"y":385}]},"mark":{"type":"text","fontSize":18},"encoding":{"text":{"field":"s"}}},
{"data":{"values":[{"s":"A","x":552,"y":78},{"s":"u","x":903,"y":518}]},"mark":{"type":"text","fontSize":19,"fontStyle":"italic"},"encoding":{"text":{"field":"s"}}},
{"data":{"values":[{"s":"δ⟨Δ","x":112,"y":145},{"s":"Δ","x":200,"y":145},{"s":"⟩","x":250,"y":145}]},"mark":{"type":"text","fontSize":18},"encoding":{"text":{"field":"s"}}},
{"data":{"values":[{"s":"†","x":168,"y":128},{"s":"d","x":170,"y":172},{"s":"d","x":232,"y":172}]},"mark":{"type":"text","fontSize":10},"encoding":{"text":{"field":"s"}}},
{"data":{"values":[{"s":"c","x":48,"y":52}]},"mark":{"type":"text","fontSize":20,"fontWeight":"bold","color":"#111"},"encoding":{"text":{"field":"s"}}}
]},
{"encoding":{"x":{"field":"x","type":"quantitative","scale":{"domain":[0,1155],"range":[990,1375],"nice":false},"axis":null},"y":{"field":"y","type":"quantitative","scale":{"domain":[0,720],"range":[265,505],"nice":false},"axis":null}},
"layer":[
{"data":{"values":[{"x":333,"y":577,"t":577},{"x":600,"y":577,"t":345},{"x":617,"y":577,"t":345},{"x":886,"y":348,"t":345},{"x":890,"y":344.6,"t":238},{"x":1015,"y":238,"t":238}]},"mark":{"type":"area","color":"#d0dcdc"},"encoding":{"y2":{"field":"t"}}},
{"data":{"values":[{"x":80,"y":577,"t":577},{"x":333,"y":577,"t":467}]},"mark":{"type":"area","color":"#d0dcdc"},"encoding":{"y2":{"field":"t"}}},
{"data":{"values":[{"x":600,"y":103,"t":103},{"x":725,"y":103,"t":0}]},"mark":{"type":"area","fill":{"gradient":"linear","x1":1,"y1":0,"x2":0.6,"y2":1,"stops":[{"offset":0,"color":"#2f2b7c"},{"offset":0.6,"color":"#2f3d90"},{"offset":1,"color":"#2a70a8"}]}},"encoding":{"y2":{"field":"t"}}},
{"data":{"values":[{"x":327,"y":103,"b":600,"t":345}]},"mark":{"type":"rect","fill":{"gradient":"linear","x1":0,"y1":0,"x2":0,"y2":1,"stops":[{"offset":0,"color":"#322c7d"},{"offset":0.19,"color":"#322c7d"},{"offset":0.2,"color":"#2e3f92"},{"offset":0.28,"color":"#2e3f92"},{"offset":0.29,"color":"#2a70a8"},{"offset":0.54,"color":"#2a78ae"},{"offset":0.55,"color":"#3b9dc0"},{"offset":0.67,"color":"#3b9dc0"},{"offset":0.68,"color":"#5cb8c0"},{"offset":0.75,"color":"#5cb8c0"},{"offset":0.79,"color":"#d5dde0"},{"offset":1,"color":"#c9c9cf"}]}},"encoding":{"x2":{"field":"b"},"y2":{"field":"t"}}},
{"data":{"values":[{"x":327,"y":103,"b":600,"t":345}]},"mark":{"type":"rect","fill":{"gradient":"linear","x1":0,"y1":0,"x2":1,"y2":0,"stops":[{"offset":0.25,"color":"rgba(20,40,80,0)"},{"offset":0.85,"color":"rgba(20,40,80,0.5)"}]}},"encoding":{"x2":{"field":"b"},"y2":{"field":"t"}}},
{"data":{"values":[{"x":333,"y":577,"t":325},{"x":600,"y":345,"t":103}]},"mark":{"type":"area","color":"white"},"encoding":{"y2":{"field":"t"}}},
{"data":{"values":[{"x":600,"y":103,"b":886,"t":345}]},"mark":{"type":"rect","color":"white"},"encoding":{"x2":{"field":"b"},"y2":{"field":"t"}}}
]},
{"encoding":{"x":{"field":"x","type":"quantitative","scale":{"domain":[0,600],"range":[1090,1290],"nice":false},"axis":null},"y":{"field":"y","type":"quantitative","scale":{"domain":[0,390],"range":[295,425],"nice":false},"axis":null},"color":{"field":"v","type":"quantitative","legend":null,"scale":{"domain":[-5,-4,-3.5,-3,-2,-1,0,1,2,3,4,5,6],"range":["#3a34a0","#2a63a8","#3d8ec0","#0aa6d0","#6fc3d8","#a7dce8","#ffffff","#fff7cf","#fde968","#fbd21c","#f7a91d","#ec7d1e","#cc471d"]}}},
"layer":[
{"data":{"values":[{"v":-5,"x":278,"e":336,"y":14,"b":130},{"v":-4,"x":278,"e":336,"y":130,"b":150},{"v":-3.2,"x":278,"e":336,"y":150,"b":170},{"v":-3,"x":278,"e":336,"y":170,"b":205},{"v":-1,"x":278,"e":336,"y":205,"b":225}]},"mark":{"type":"rect"},"encoding":{"x2":{"field":"e"},"y2":{"field":"b"}}},
{"data":{"values":[
{"v":1,"x":36,"y":370,"t":237},{"v":1,"x":60,"y":320,"t":217},{"v":1,"x":84,"y":300,"t":196.5},{"v":1,"x":108,"y":300,"t":176},{"v":1,"x":132,"y":290,"t":156},{"v":1,"x":156,"y":285,"t":136},{"v":1,"x":180,"y":275,"t":115.5},{"v":1,"x":204,"y":265,"t":95},{"v":1,"x":228,"y":250,"t":75},{"v":1,"x":252,"y":240,"t":55},{"v":1,"x":275,"y":240,"t":35},
{"v":2,"x":36,"y":330,"t":237},{"v":2,"x":60,"y":300,"t":217},{"v":2,"x":84,"y":285,"t":196.5},{"v":2,"x":108,"y":280,"t":176},{"v":2,"x":132,"y":272,"t":156},{"v":2,"x":156,"y":270,"t":136},{"v":2,"x":180,"y":260,"t":115.5},{"v":2,"x":204,"y":250,"t":95},{"v":2,"x":228,"y":235,"t":75},{"v":2,"x":252,"y":225,"t":55},{"v":2,"x":275,"y":210,"t":35},
{"v":3,"x":36,"y":300,"t":237},{"v":3,"x":60,"y":270,"t":217},{"v":3,"x":84,"y":255,"t":196.5},{"v":3,"x":108,"y":240,"t":176},{"v":3,"x":132,"y":240,"t":156},{"v":3,"x":156,"y":240,"t":136},{"v":3,"x":180,"y":235,"t":115.5},{"v":3,"x":204,"y":235,"t":95},{"v":3,"x":228,"y":220,"t":75},{"v":3,"x":252,"y":205,"t":55},{"v":3,"x":275,"y":195,"t":35},
{"v":4,"x":36,"y":280,"t":237},{"v":4,"x":60,"y":250,"t":217},{"v":4,"x":84,"y":215,"t":196.5},{"v":4,"x":108,"y":200,"t":176},{"v":4,"x":132,"y":190,"t":156},{"v":4,"x":156,"y":215,"t":136},{"v":4,"x":180,"y":195,"t":115.5},{"v":4,"x":204,"y":210,"t":95},{"v":4,"x":228,"y":190,"t":75},{"v":4,"x":252,"y":175,"t":55},{"v":4,"x":275,"y":170,"t":35},
{"v":5,"x":36,"y":237,"t":237},{"v":5,"x":60,"y":217,"t":217},{"v":5,"x":84,"y":196.5,"t":196.5},{"v":5,"x":108,"y":176,"t":176},{"v":5,"x":132,"y":170,"t":156},{"v":5,"x":156,"y":180,"t":136},{"v":5,"x":180,"y":165,"t":115.5},{"v":5,"x":204,"y":190,"t":95},{"v":5,"x":228,"y":165,"t":75},{"v":5,"x":252,"y":150,"t":55},{"v":5,"x":275,"y":150,"t":35},
{"v":6,"x":132,"y":156,"t":156},{"v":6,"x":156,"y":150,"t":136},{"v":6,"x":180,"y":140,"t":115.5},{"v":6,"x":204,"y":125,"t":95},{"v":6,"x":228,"y":140,"t":75},{"v":6,"x":252,"y":130,"t":55},{"v":6,"x":275,"y":110,"t":35}
]},"mark":{"type":"area"},"encoding":{"y2":{"field":"t"}}},
{"data":{"values":[
{"v":1,"x":336,"y":235},{"v":1,"x":356,"y":215},{"v":1,"x":376,"y":190},{"v":1,"x":396,"y":165},{"v":1,"x":416,"y":145},{"v":1,"x":436,"y":115},{"v":1,"x":456,"y":95},{"v":1,"x":476,"y":80},{"v":1,"x":496,"y":60},{"v":1,"x":516,"y":38},{"v":1,"x":536,"y":14},
{"v":2,"x":336,"y":225},{"v":2,"x":356,"y":200},{"v":2,"x":376,"y":175},{"v":2,"x":396,"y":150},{"v":2,"x":416,"y":130},{"v":2,"x":436,"y":100},{"v":2,"x":456,"y":85},{"v":2,"x":476,"y":70},{"v":2,"x":496,"y":50},{"v":2,"x":516,"y":25},{"v":2,"x":536,"y":14},
{"v":3,"x":336,"y":210},{"v":3,"x":356,"y":190},{"v":3,"x":376,"y":160},{"v":3,"x":396,"y":135},{"v":3,"x":416,"y":110},{"v":3,"x":436,"y":85},{"v":3,"x":456,"y":70},{"v":3,"x":476,"y":55},{"v":3,"x":496,"y":35},{"v":3,"x":516,"y":14},
{"v":4,"x":336,"y":90},{"v":4,"x":356,"y":85},{"v":4,"x":376,"y":80},{"v":4,"x":396,"y":70},{"v":4,"x":416,"y":60},{"v":4,"x":436,"y":50},{"v":4,"x":456,"y":40},{"v":4,"x":476,"y":30},{"v":4,"x":496,"y":14},
{"v":5,"x":336,"y":60},{"v":5,"x":356,"y":50},{"v":5,"x":376,"y":45},{"v":5,"x":396,"y":30},{"v":5,"x":416,"y":14}
]},"mark":{"type":"area","interpolate":"step-after"},"encoding":{"y2":{"datum":14}}}
]},
{"encoding":{"x":{"field":"x","type":"quantitative","scale":{"domain":[0,1155],"range":[990,1375],"nice":false},"axis":null},"y":{"field":"y","type":"quantitative","scale":{"domain":[0,720],"range":[265,505],"nice":false},"axis":null}},
"layer":[
{"data":{"values":[{"x":50,"y":577,"b":617,"t":577},{"x":617,"y":577,"b":1015,"t":238},{"x":50,"y":577,"b":333,"t":342},{"x":333,"y":577,"b":600,"t":345},{"x":333,"y":325,"b":333,"t":577},{"x":333,"y":325,"b":600,"t":103},{"x":600,"y":103,"b":725,"t":0},{"x":327,"y":103,"b":886,"t":103},{"x":886,"y":103,"b":886,"t":345},{"x":600,"y":17,"b":600,"t":345},{"x":197,"y":342,"b":197,"t":472},{"x":617,"y":575,"b":632,"t":575},{"x":748,"y":473,"b":765,"t":473},{"x":868,"y":362,"b":886,"t":362},{"x":995,"y":265,"b":1012,"t":265}]},"mark":{"type":"rule","color":"#1c1c1c","strokeWidth":1.1},"encoding":{"x2":{"field":"b"},"y2":{"field":"t"}}},
{"data":{"values":[{"x":327,"y":103,"b":327,"t":345},{"x":890,"y":238,"b":1015,"t":238},{"x":725,"y":0,"b":725,"t":103},{"x":600,"y":345,"b":886,"t":345}]},"mark":{"type":"rule","color":"#888","strokeWidth":1.4},"encoding":{"x2":{"field":"b"},"y2":{"field":"t"}}},
{"data":{"values":[{"x":80,"y":577,"b":333,"t":467},{"x":575,"y":125,"b":575,"t":365},{"x":636,"y":103,"b":636,"t":345},{"x":575,"y":365,"b":636,"t":345}]},"mark":{"type":"rule","color":"#333","strokeWidth":1.1,"strokeDash":[4,3]},"encoding":{"x2":{"field":"b"},"y2":{"field":"t"}}},
{"data":{"values":[{"x":600,"y":19}]},"mark":{"type":"point","shape":"triangle-up","filled":true,"color":"#111","size":40,"opacity":1}},
{"data":{"values":[{"s":"7","x":648,"y":583},{"s":"7.5","x":795,"y":478},{"s":"8","x":900,"y":372},{"s":"8.5","x":1045,"y":267},{"s":"Peierls","x":607,"y":470}]},"mark":{"type":"text","fontSize":15.5},"encoding":{"text":{"field":"s"}}},
{"data":{"values":[{"s":"Mott","x":122,"y":335}]},"mark":{"type":"text","fontSize":18},"encoding":{"text":{"field":"s"}}},
{"data":{"values":[{"s":"A","x":552,"y":33},{"s":"u","x":903,"y":472}]},"mark":{"type":"text","fontSize":19,"fontStyle":"italic"},"encoding":{"text":{"field":"s"}}},
{"data":{"values":[{"s":"δ","x":225,"y":130}]},"mark":{"type":"text","fontSize":18},"encoding":{"text":{"field":"s"}}},
{"data":{"values":[{"s":"Λ","x":258,"y":130}]},"mark":{"type":"text","fontSize":18,"fontStyle":"italic"},"encoding":{"text":{"field":"s"}}},
{"data":{"values":[{"s":"d","x":289,"y":160}]},"mark":{"type":"text","fontSize":10},"encoding":{"text":{"field":"s"}}}
]}
]}
